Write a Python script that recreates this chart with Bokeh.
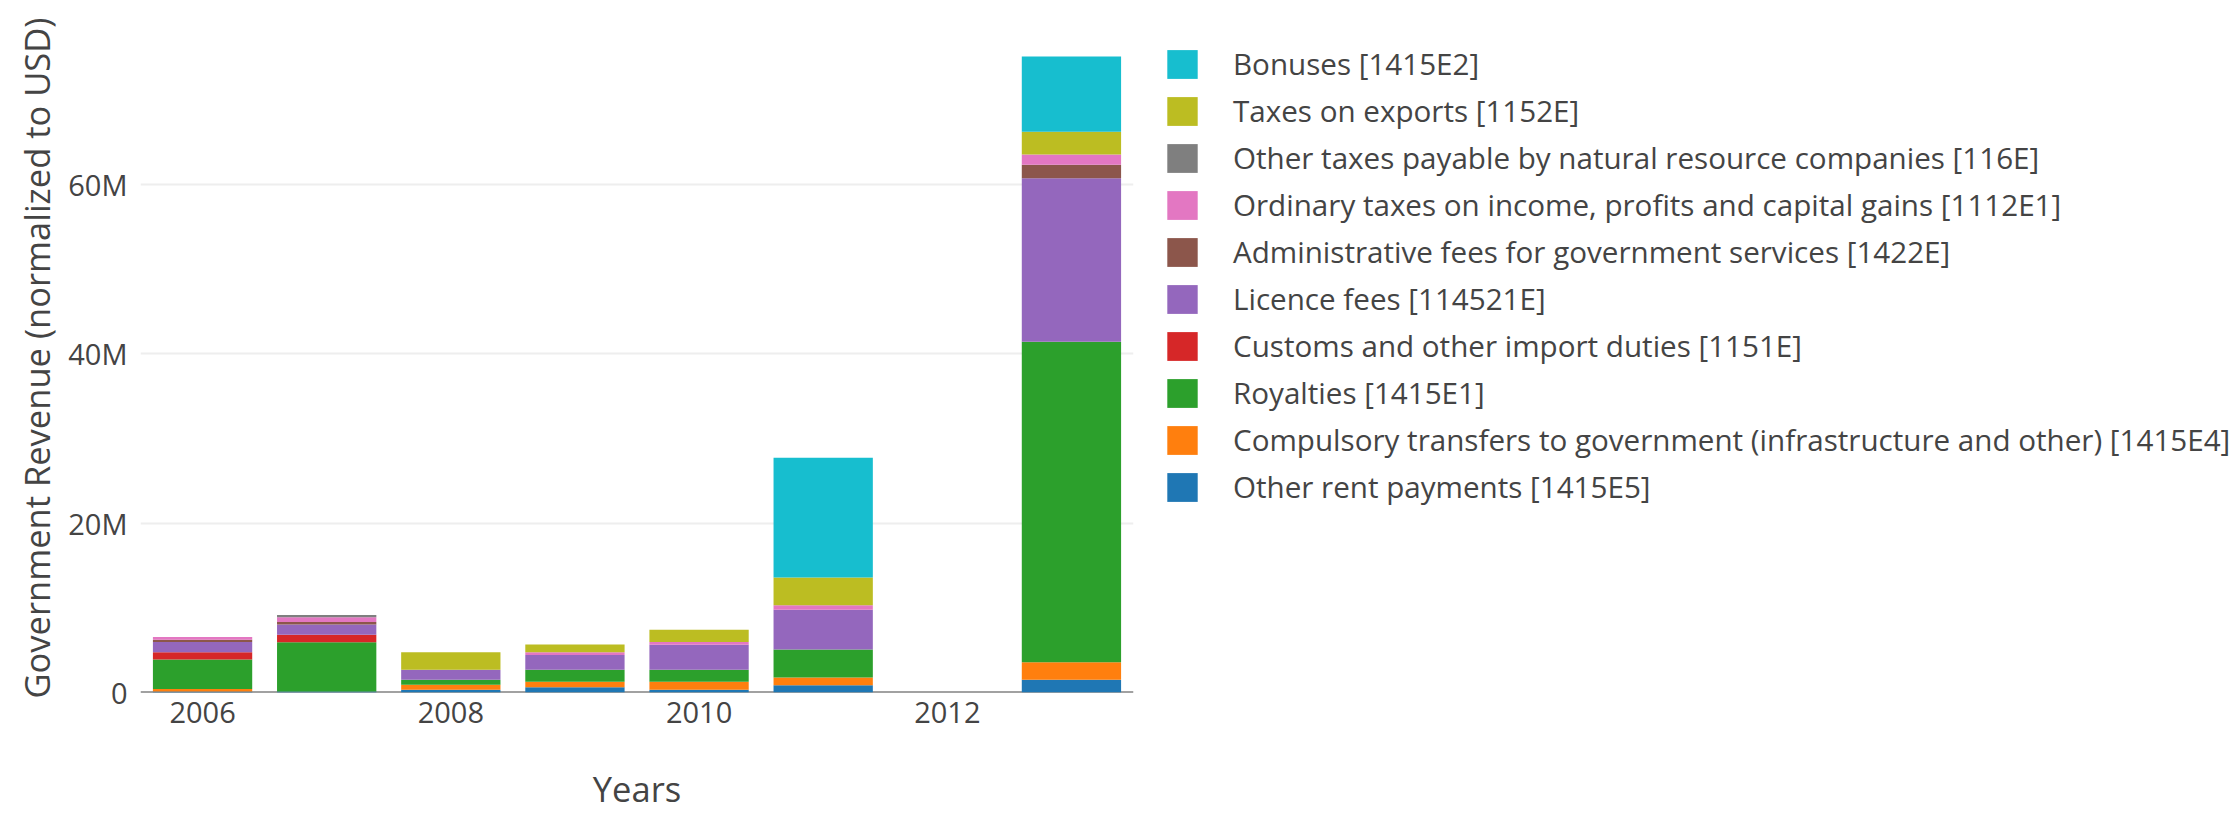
from bokeh.plotting import figure
from bokeh.layouts import row
from bokeh.models import ColumnDataSource, Range1d, FixedTicker, Legend, LegendItem, Span
from bokeh.embed import file_html
from bokeh.resources import INLINE

# ---- data (values in million USD) ----
years = [2006, 2007, 2008, 2009, 2010, 2011, 2013]

other_rent     = [0.12, 0.12, 0.32, 0.63, 0.32, 0.87, 1.50]
compulsory     = [0.28, 0.00, 0.59, 0.63, 0.95, 0.91, 2.06]
royalties      = [3.49, 5.82, 0.59, 1.43, 1.43, 3.29, 37.84]
customs        = [0.87, 0.87, 0.00, 0.00, 0.00, 0.00, 0.00]
licence_fees   = [1.19, 1.23, 1.19, 1.74, 2.93, 4.71, 19.30]
admin_fees     = [0.28, 0.28, 0.00, 0.00, 0.00, 0.00, 1.60]
ordinary_taxes = [0.32, 0.55, 0.00, 0.32, 0.32, 0.51, 1.20]
other_taxes    = [0.00, 0.28, 0.00, 0.00, 0.00, 0.00, 0.00]
export_taxes   = [0.00, 0.00, 2.06, 0.91, 1.47, 3.29, 2.70]
bonuses        = [0.00, 0.00, 0.00, 0.00, 0.00, 14.14, 8.87]

series_labels = [
    "Other rent payments [1415E5]",
    "Compulsory transfers to government (infrastructure and other) [1415E4]",
    "Royalties [1415E1]",
    "Customs and other import duties [1151E]",
    "Licence fees [114521E]",
    "Administrative fees for government services [1422E]",
    "Ordinary taxes on income, profits and capital gains [1112E1]",
    "Other taxes payable by natural resource companies [116E]",
    "Taxes on exports [1152E]",
    "Bonuses [1415E2]",
]
series_values = [other_rent, compulsory, royalties, customs, licence_fees,
                 admin_fees, ordinary_taxes, other_taxes, export_taxes, bonuses]
colors = ["#1f77b4", "#ff7f0e", "#2ca02c", "#d62728", "#9467bd",
          "#8c564b", "#e377c2", "#7f7f7f", "#bcbd22", "#17becf"]

x_ticks = [2006, 2008, 2010, 2012]
y_ticks = [0, 20, 40, 60]
y_tick_labels = ["0", "20M", "40M", "60M"]

keys = ["s%d" % i for i in range(len(series_labels))]
data = {"year": years}
for k, v in zip(keys, series_values):
    data[k] = v
source = ColumnDataSource(data)

TEXT = "#444444"
FONT = "Open Sans"

# ---- chart ----
p = figure(width=1150, height=820, output_backend="svg", toolbar_location=None,
           x_range=Range1d(2005.5, 2013.5), y_range=Range1d(0, 78.98),
           min_border_left=140, min_border_right=17,
           min_border_top=23, min_border_bottom=128)
p.outline_line_color = None
p.background_fill_color = "white"

p.vbar_stack(keys, x="year", width=0.8, source=source,
             fill_color=colors, line_color=None)

zero = Span(location=0, dimension="width", line_color=TEXT, line_width=2, level="underlay")
p.add_layout(zero)

p.xgrid.grid_line_color = None
p.ygrid.grid_line_color = "#eeeeee"
p.ygrid.grid_line_width = 2

p.xaxis.ticker = FixedTicker(ticks=x_ticks)
p.yaxis.ticker = FixedTicker(ticks=y_ticks)
p.yaxis.major_label_overrides = {t: l for t, l in zip(y_ticks, y_tick_labels)}

for ax in (p.xaxis[0], p.yaxis[0]):
    ax.axis_line_color = None
    ax.major_tick_line_color = None
    ax.minor_tick_line_color = None
    ax.major_label_text_font = FONT
    ax.major_label_text_font_size = "29px"
    ax.major_label_text_color = TEXT
    ax.axis_label_text_font = FONT
    ax.axis_label_text_font_size = "34.5px"
    ax.axis_label_text_font_style = "normal"
    ax.axis_label_text_color = TEXT

p.xaxis.axis_label = "Years"
p.yaxis.axis_label = "Government Revenue (normalized to USD)"
p.xaxis.major_label_standoff = 3
p.xaxis.axis_label_standoff = 39
p.yaxis.major_label_standoff = 7
p.yaxis.axis_label_standoff = 5

# ---- legend panel (separate figure, renderers hidden, legend only) ----
lp = figure(width=1087, height=820, output_backend="svg", toolbar_location=None,
            x_axis_location=None, y_axis_location=None,
            min_border_left=0, min_border_right=0,
            min_border_top=0, min_border_bottom=0)
lp.outline_line_color = None
lp.grid.visible = False
legend_renderers = lp.vbar_stack(keys, x="year", width=0.8, source=source,
                                 fill_color=colors, line_color=None)
for r in legend_renderers:
    r.visible = False

items = [LegendItem(label=lab, renderers=[r])
         for lab, r in zip(series_labels, legend_renderers)][::-1]
legend = Legend(items=items, location=(13, 185), margin=0, padding=0,
                glyph_width=38, glyph_height=36, label_height=41,
                label_standoff=32, spacing=6,
                label_text_font=FONT, label_text_font_size="29.6px",
                label_text_color=TEXT, inactive_fill_alpha=0,
                border_line_color=None, background_fill_alpha=0)
lp.add_layout(legend, "center")

layout = row(p, lp, spacing=0)
open("out.html", "w").write(file_html(layout, INLINE))
